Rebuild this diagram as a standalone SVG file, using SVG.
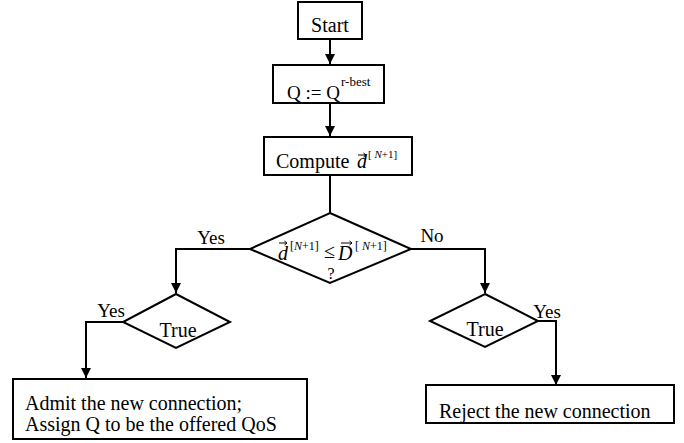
<svg xmlns="http://www.w3.org/2000/svg" width="684" height="443" viewBox="0 0 684 443" font-family="Liberation Serif, Times New Roman, serif">
<defs>
<marker id="ah" markerWidth="10" markerHeight="11" refX="10" refY="5" orient="auto" markerUnits="userSpaceOnUse">
<path d="M0,0 L10,5 L0,10 Z" fill="#000"/>
</marker>
<style>
.box{fill:#fff;stroke:#000;stroke-width:2}
.ln{fill:none;stroke:#000;stroke-width:2}
text{font-family:'Liberation Serif','Times New Roman',serif;fill:#000}
.t{font-size:20px}
.lbl{font-size:19px}
.it{font-style:italic}
.vec{fill:none;stroke:#000;stroke-width:1}
</style>
</defs>
<rect width="684" height="443" fill="#fff"/>
<g id="connectors">
<path class="ln" d="M330,39 V64" marker-end="url(#ah)"/>
<path class="ln" d="M330,103 V136" marker-end="url(#ah)"/>
<path class="ln" d="M330,175 V213"/>
<path class="ln" d="M250,249 H176 V293" marker-end="url(#ah)"/>
<path class="ln" d="M411,249 H485 V293" marker-end="url(#ah)"/>
<path class="ln" d="M123,322 H86 V378" marker-end="url(#ah)"/>
<path class="ln" d="M538,321 H556 V385" marker-end="url(#ah)"/>
<text class="lbl" x="211" y="244" text-anchor="middle">Yes</text>
<text class="lbl" x="432" y="242" text-anchor="middle">No</text>
<text class="lbl" x="111" y="317" text-anchor="middle">Yes</text>
<text class="lbl" x="547" y="318" text-anchor="middle">Yes</text>
</g>
<g id="start">
<rect class="box" x="298" y="2" width="64" height="37"/>
<text class="t" x="330" y="32" text-anchor="middle">Start</text>
</g>
<g id="assign-q">
<rect class="box" x="273" y="65" width="111" height="38"/>
<text class="t" x="287" y="99" font-size="19" style="font-size:19px">Q := Q</text>
<text class="t" x="341" y="86" style="font-size:13px">r-best</text>
</g>
<g id="compute">
<rect class="box" x="264" y="137" width="148" height="38"/>
<text class="t" x="276" y="168">Compute</text>
<text class="t it" x="357" y="168">d</text>
<path class="vec" d="M358,155 H366 M363.5,153 L366,155 L363.5,157"/>
<text class="t" x="368" y="158" style="font-size:11px">[ <tspan class="it">N</tspan>+1]</text>
</g>
<g id="decision">
<path class="box" d="M330,213 L411,249 L330,283 L250,249 Z"/>
<text class="t it" x="278" y="260">d</text>
<path class="vec" d="M279,243 H287 M284.5,241 L287,243 L284.5,245"/>
<text class="t" x="290" y="250" style="font-size:12px">[<tspan class="it">N</tspan>+1]</text>
<text class="t" x="324" y="258">≤</text>
<text class="t it" x="338" y="260">D</text>
<path class="vec" d="M341,243 H352 M349.5,241 L352,243 L349.5,245"/>
<text class="t" x="355" y="250" style="font-size:12px">[ <tspan class="it">N</tspan>+1]</text>
<text class="t" x="331" y="279" text-anchor="middle" style="font-size:16px">?</text>
</g>
<g id="true-left">
<path class="box" d="M176,294 L230,322 L176,348 L123,322 Z"/>
<text class="t" x="178" y="337" text-anchor="middle">True</text>
</g>
<g id="true-right">
<path class="box" d="M485,294 L538,321 L485,347 L430,321 Z"/>
<text class="t" x="485" y="336" text-anchor="middle">True</text>
</g>
<g id="admit">
<rect class="box" x="13" y="379" width="294" height="60"/>
<text class="t" x="25" y="410">Admit the new connection;</text>
<text class="t" x="25" y="431">Assign Q to be the offered QoS</text>
</g>
<g id="reject">
<rect class="box" x="426" y="385" width="248" height="38"/>
<text class="t" x="439" y="418">Reject the new connection</text>
</g>
</svg>
